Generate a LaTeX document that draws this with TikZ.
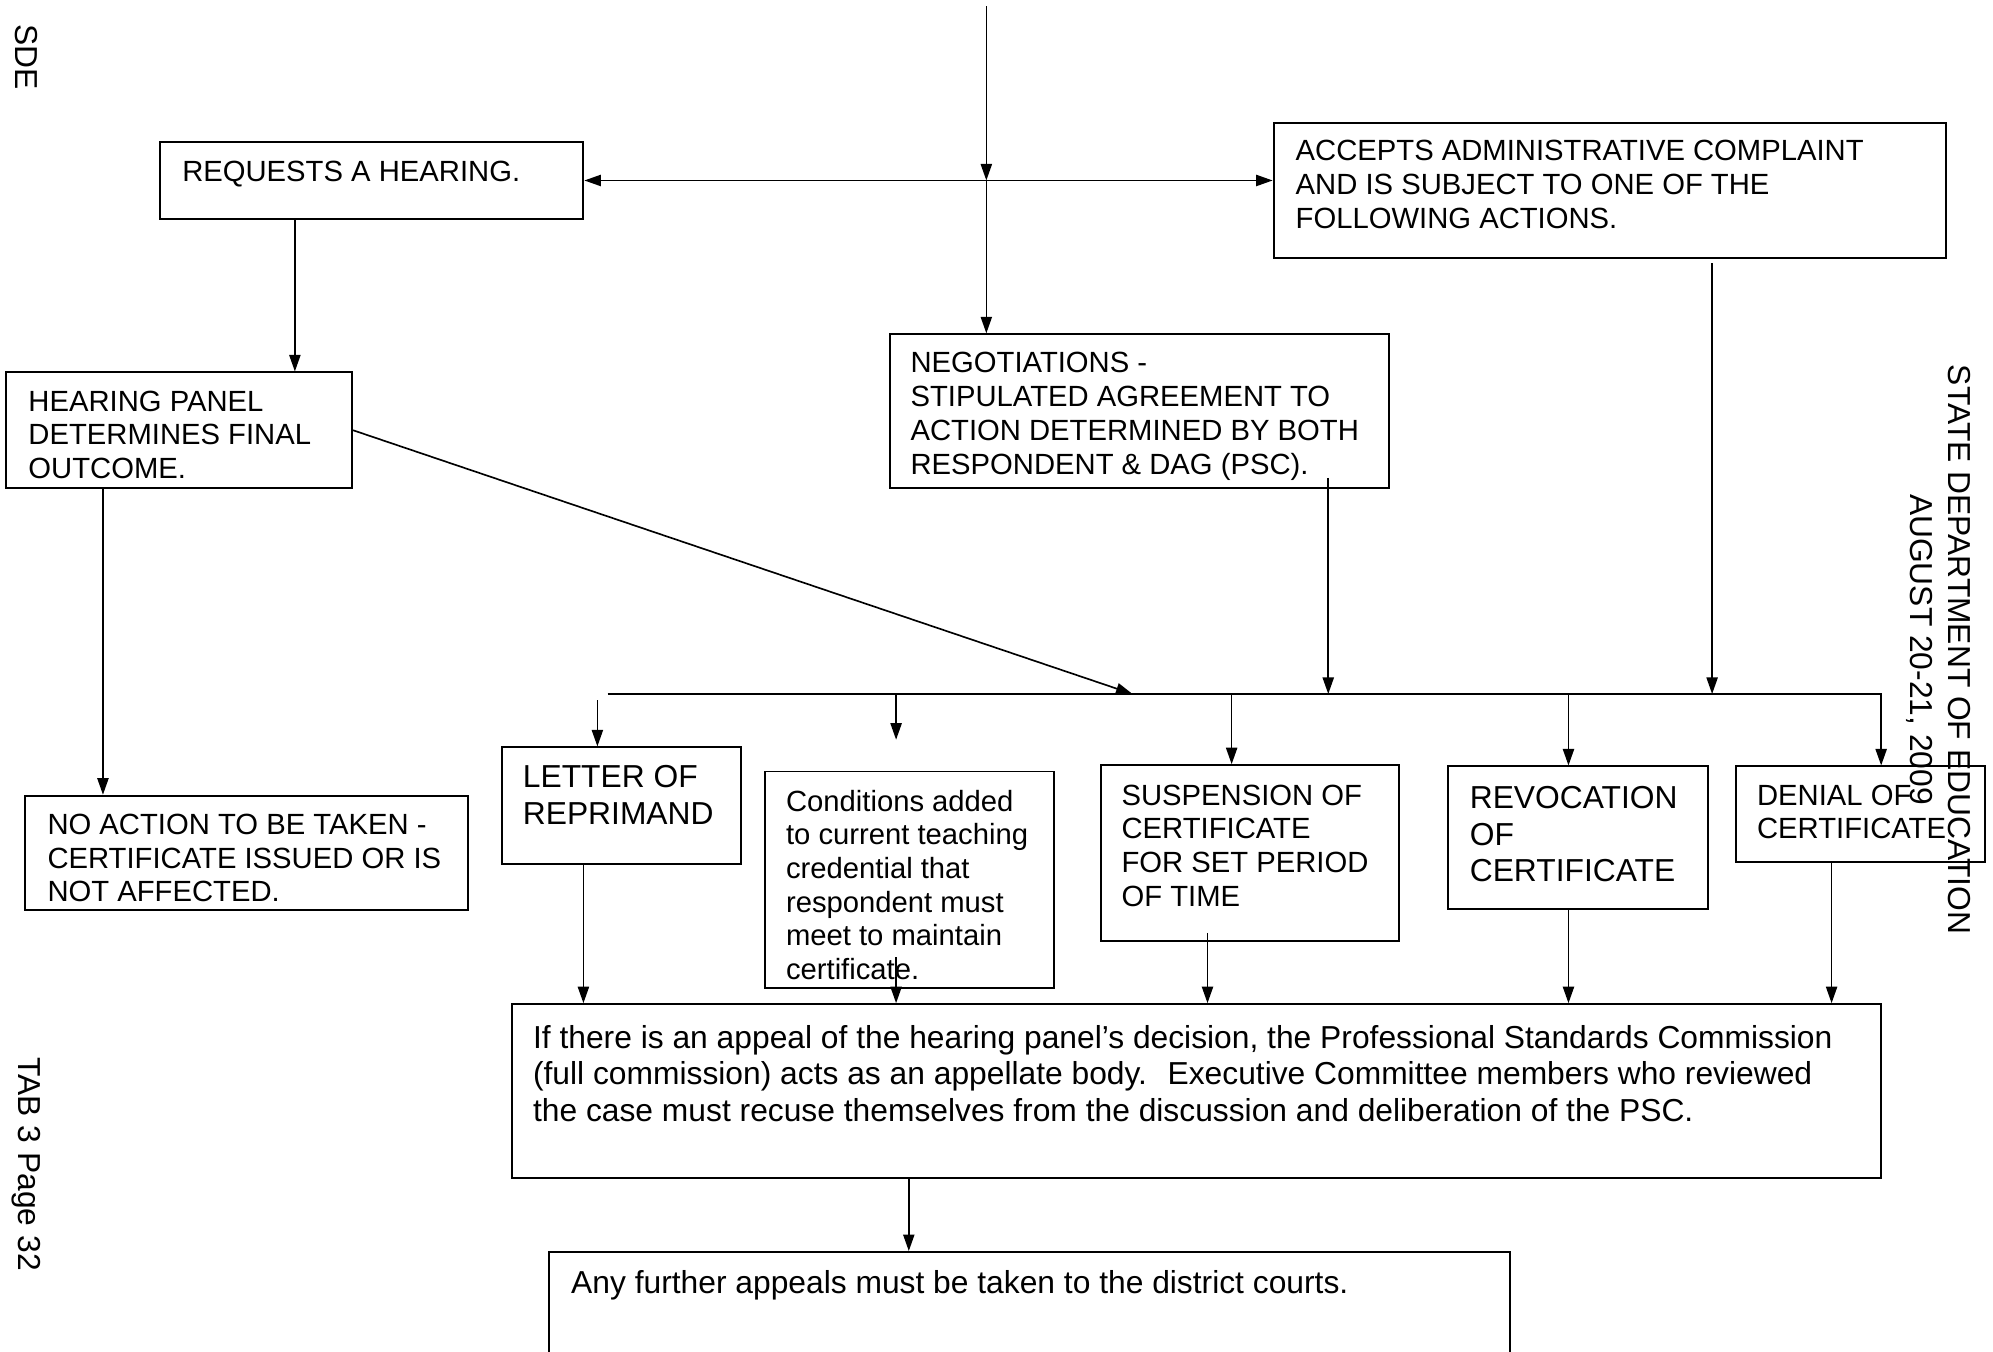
\documentclass[tikz,border=0pt]{standalone}
\usepackage{fontspec}
\setmainfont{Liberation Sans}
\usetikzlibrary{arrows.meta,fit,calc}
\begin{document}
\begin{tikzpicture}[x=0.5pt,y=-0.5pt,
  box/.style={draw, line width=0.75pt, inner sep=0pt},
  txt/.style={anchor=north west, inner sep=0pt, align=left, font=\fontsize{11.5}{13.25}\selectfont},
  txtL/.style={anchor=north west, inner sep=0pt, align=left, font=\fontsize{12.5}{14.5}\selectfont},
  arr/.style={line width=0.65pt, -{Triangle[length=6.5pt,width=4.4pt]}},
  dblarr/.style={line width=0.65pt, {Triangle[length=6.5pt,width=4.4pt]}-{Triangle[length=6.5pt,width=4.4pt]}},
  ln/.style={line width=0.65pt},
  side/.style={rotate=-90, inner sep=0pt, align=center, font=\fontsize{12.5}{15}\selectfont}]
\clip (0,0) rectangle (1568,1063);
\fill[white] (0,0) rectangle (1568,1063);

% boxes
\node[box, fit={(126,112) (459,172)}] (req) {};
\node[box, fit={(1002,97) (1531,203)}] (acc) {};
\node[box, fit={(5,293) (277,384)}] (hp) {};
\node[box, fit={(700,263) (1093,384)}] (neg) {};
\node[box, fit={(20,626) (368,716)}] (noact) {};
\node[box, fit={(395,588) (583,680)}] (letter) {};
\node[box, fit={(602,607) (829,777)}] (cond) {};
\node[box, fit={(866,602) (1101,740)}] (susp) {};
\node[box, fit={(1139,603) (1344,715)}] (revoc) {};
\node[box, fit={(1366,603) (1562,678)}] (denial) {};
\node[box, fit={(403,790) (1480,927)}] (appeal) {};
\node[box, fit={(432,985) (1188,1100)}] (courts) {};

% texts
\node[txt] (reqT) at (143,126) {REQUESTS A HEARING.};
\node[txt] (accT) at (1019,110) {ACCEPTS ADMINISTRATIVE COMPLAINT\\AND IS SUBJECT TO ONE OF THE\\FOLLOWING ACTIONS.};
\node[txt] (hpT) at (22,307) {HEARING PANEL\\DETERMINES FINAL\\OUTCOME.};
\node[txt] (negT) at (716,277) {NEGOTIATIONS -\\STIPULATED AGREEMENT TO\\ACTION DETERMINED BY BOTH\\RESPONDENT \& DAG (PSC).};
\begin{scope}
\clip (20,626) rectangle (368,709.5);
\node[txt] (noactT) at (37,640) {NO ACTION TO BE TAKEN -\\CERTIFICATE ISSUED OR IS\\NOT AFFECTED.};
\end{scope}
\node[txtL] (letterT) at (411,602) {LETTER OF\\REPRIMAND};
\node[txt] (condT) at (618,621) {Conditions added\\to current teaching\\credential that\\respondent must\\meet to maintain\\certificate.};
\node[txt] (suspT) at (882,617) {SUSPENSION OF\\CERTIFICATE\\FOR SET PERIOD\\OF TIME};
\node[txtL] (revocT) at (1156,618) {REVOCATION\\OF\\CERTIFICATE};
\node[txt] (denialT) at (1382,617) {DENIAL OF\\CERTIFICATE};
\node[txtL] (appealT) at (419,806) {If there is an appeal of the hearing panel’s decision, the Professional Standards Commission\\(full commission) acts as an appellate body. \ Executive Committee members who reviewed\\the case must recuse themselves from the discussion and deliberation of the PSC.};
\node[txtL] (courtsT) at (449,999) {Any further appeals must be taken to the district courts.};

% side texts
\node[side] (sde) at (21,45) {SDE};
\node[side] (tab) at (21,916) {TAB 3 Page 32};
\node[side] (sdeR) at (1525,511) {STATE DEPARTMENT OF EDUCATION\\AUGUST 20-21, 2009};

% connectors
\coordinate (top) at (776,5);
\coordinate (junc) at (776,142);
\draw[arr] (top) -- (junc);
\draw[arr] (junc) -- (junc |- neg.north);
\draw[dblarr] (junc -| req.east) -- (junc -| acc.west);

\coordinate (cA) at (232,0);
\coordinate (cB) at (81,0);
\draw[arr] (req.south -| cA) -- (hp.north -| cA);
\draw[arr] (hp.south -| cB) -- (noact.north -| cB);

\coordinate (diagEnd) at (891,546);
\draw[arr] (hp.east) -- (diagEnd);

\coordinate (busL) at (478,546);
\coordinate (busR) at (1480,546);
\draw[arr] (busL) -- (busR) -- (busR |- denial.north);

\coordinate (accOut) at (1347,207);
\draw[arr] (accOut) -- (accOut |- busR);
\coordinate (negOut) at (1045,376);
\draw[arr] (negOut) -- (negOut |- busR);

\coordinate (letIn) at (470,551);
\draw[arr] (letIn) -- (letIn |- letter.north);
\coordinate (cC) at (705,546);
\coordinate (cCend) at (705,582);
\draw[arr] (cC) -- (cCend);
\coordinate (cS) at (969,546);
\draw[arr] (cS) -- (cS |- susp.north);
\coordinate (cR) at (1234,546);
\draw[arr] (cR) -- (cR |- revoc.north);

\coordinate (dL) at (459,0);
\draw[arr] (letter.south -| dL) -- (appeal.north -| dL);
\coordinate (dC) at (705,753);
\draw[arr] (dC) -- (dC |- appeal.north);
\coordinate (dS) at (950,734);
\draw[arr] (dS) -- (dS |- appeal.north);
\coordinate (dR) at (1234,0);
\draw[arr] (revoc.south -| dR) -- (appeal.north -| dR);
\coordinate (dD) at (1441,0);
\draw[arr] (denial.south -| dD) -- (appeal.north -| dD);
\coordinate (dA) at (715,0);
\draw[arr] (appeal.south -| dA) -- (courts.north -| dA);
\end{tikzpicture}
\end{document}
